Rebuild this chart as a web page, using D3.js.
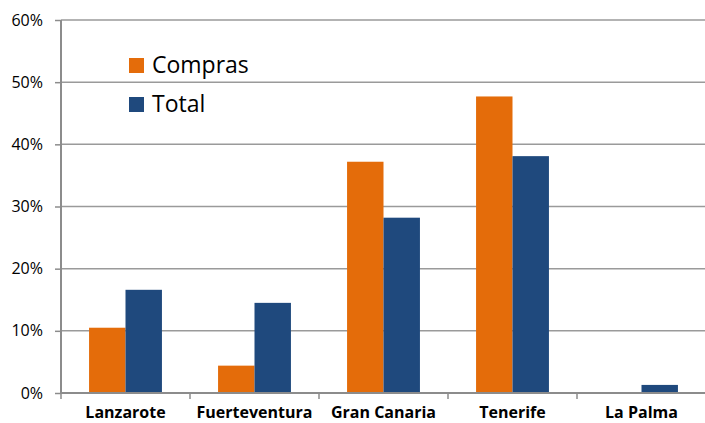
<!DOCTYPE html>
<html>
<head>
<meta charset="utf-8">
<script src="https://cdn.jsdelivr.net/npm/d3@7"></script>
<style>
  body { margin: 0; background: #fff; }
  text { font-family: "Open Sans", "Noto Sans", sans-serif; fill: #000; }
</style>
</head>
<body>
<div id="chart"></div>
<script>
// Data
var islands = ["Lanzarote", "Fuerteventura", "Gran Canaria", "Tenerife", "La Palma"];
var seriesNames = ["Compras", "Total"];
var compras = [0.105, 0.044, 0.372, 0.477, 0];
var total = [0.166, 0.145, 0.282, 0.381, 0.013];
var yTicks = [0, 0.1, 0.2, 0.3, 0.4, 0.5, 0.6];
var colors = ["#E46C0A", "#1F497D"];

var W = 705, H = 423;
var margin = { top: 20, right: -1, bottom: 30, left: 61 },
    width = W - margin.left - margin.right,
    height = H - margin.top - margin.bottom;

var svg = d3.select("#chart").append("svg")
    .attr("width", W)
    .attr("height", H)
    .append("g")
    .attr("transform", "translate(" + margin.left + "," + margin.top + ")");

// Scales
var x = d3.scaleBand()
    .domain(islands)
    .range([0, width])
    .paddingInner(0.435)
    .paddingOuter(0.2175);
var x1 = d3.scaleBand()
    .domain(seriesNames)
    .range([0, x.bandwidth()]);
var y = d3.scaleLinear()
    .domain([0, 0.6])
    .range([height, 0]);

// Gridlines
svg.append("g")
    .selectAll("line")
    .data(yTicks.slice(1))
    .enter().append("line")
    .attr("x1", 0)
    .attr("x2", width)
    .attr("y1", d => y(d))
    .attr("y2", d => y(d))
    .attr("stroke", "#9a9a9a")
    .attr("stroke-width", 1.5);

// Bars
var rows = islands.map(function (d, i) {
    return { island: d, values: [compras[i], total[i]] };
});
var groups = svg.selectAll(".grp")
    .data(rows)
    .enter().append("g")
    .attr("class", "grp")
    .attr("transform", d => "translate(" + x(d.island) + ",0)");
groups.selectAll("rect")
    .data(d => d.values.map((v, j) => ({ key: seriesNames[j], v: v, j: j })))
    .enter().append("rect")
    .attr("x", d => x1(d.key))
    .attr("width", x1.bandwidth())
    .attr("y", d => y(d.v))
    .attr("height", d => height - y(d.v))
    .attr("fill", d => colors[d.j]);

// Y axis
var yAxis = svg.append("g")
    .call(d3.axisLeft(y).tickValues(yTicks).tickFormat(d3.format(".0%")).tickSize(6).tickPadding(12));
yAxis.select(".domain").attr("stroke", "#8c8c8c").attr("stroke-width", 2).attr("d", "M0," + height + "V0");
yAxis.selectAll(".tick line").attr("stroke", "#8c8c8c").attr("stroke-width", 1.5);
yAxis.selectAll("text").style("font-size", "16px").attr("fill", "#000");

// X axis
var xAxis = svg.append("g")
    .attr("transform", "translate(0," + height + ")");
xAxis.append("line")
    .attr("x1", 0).attr("x2", width)
    .attr("stroke", "#8c8c8c").attr("stroke-width", 2);
var bounds = islands.map(d => x(d) - x.step() * x.paddingInner() / 2).concat([width]);
xAxis.selectAll(".xt")
    .data(bounds)
    .enter().append("line")
    .attr("x1", d => d).attr("x2", d => d)
    .attr("y1", 0).attr("y2", 6)
    .attr("stroke", "#8c8c8c").attr("stroke-width", 1.5);
xAxis.selectAll(".xl")
    .data(islands)
    .enter().append("text")
    .attr("x", d => x(d) + x.bandwidth() / 2)
    .attr("y", 25)
    .attr("text-anchor", "middle")
    .style("font-size", "16px")
    .style("font-weight", "bold")
    .text(d => d);

// Legend
var legend = svg.append("g")
    .attr("transform", "translate(" + (129 - margin.left) + "," + (58 - margin.top) + ")");
seriesNames.forEach(function (name, i) {
    legend.append("rect")
        .attr("x", 0).attr("y", i * 39)
        .attr("width", 15).attr("height", 15)
        .attr("fill", colors[i]);
    legend.append("text")
        .attr("x", 23).attr("y", i * 39 + 15)
        .style("font-size", "23px")
        .text(name);
});
</script>
</body>
</html>
